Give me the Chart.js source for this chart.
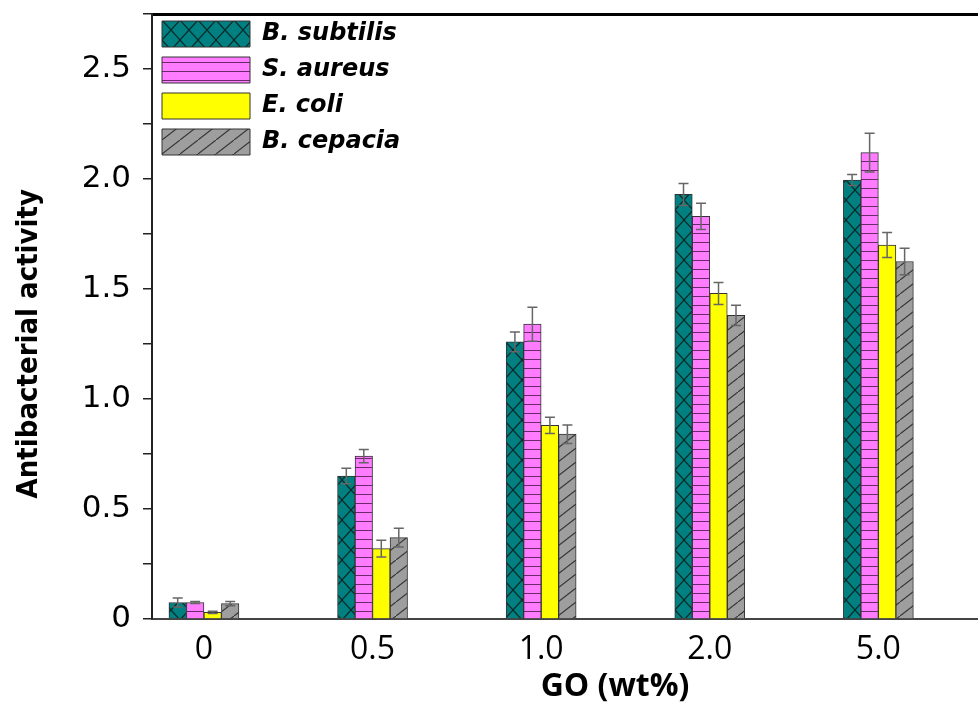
<!DOCTYPE html>
<html>
<head>
<meta charset="utf-8">
<script src="https://cdn.jsdelivr.net/npm/chart.js@4"></script>
<style>
html,body{margin:0;padding:0;background:#fff;overflow:hidden;}
#wrap{width:978px;height:706px;overflow:hidden;position:relative;}
</style>
</head>
<body>
<div id="wrap"><canvas id="c" width="1078" height="706" style="width:1078px;height:706px;display:block"></canvas></div>
<script>
// ---- data ----
const categories = ['0', '0.5', '1.0', '2.0', '5.0'];
const seriesNames = ['B. subtilis', 'S. aureus', 'E. coli', 'B. cepacia'];
const subtilisVals = [0.075, 0.65, 1.26, 1.93, 1.995];
const subtilisErr  = [0.02, 0.035, 0.045, 0.05, 0.025];
const aureusVals   = [0.075, 0.74, 1.34, 1.83, 2.12];
const aureusErr    = [0.005, 0.03, 0.077, 0.06, 0.088];
const coliVals     = [0.03, 0.32, 0.88, 1.48, 1.70];
const coliErr      = [0.005, 0.038, 0.037, 0.05, 0.057];
const cepaciaVals  = [0.07, 0.37, 0.84, 1.38, 1.625];
const cepaciaErr   = [0.01, 0.043, 0.042, 0.046, 0.06];
const yTickLabels  = ['0', '0.5', '1.0', '1.5', '2.0', '2.5'];

// ---- patterns ----
function tile(w, h, bg, draw) {
  const c = document.createElement('canvas');
  c.width = w; c.height = h;
  const g = c.getContext('2d');
  g.fillStyle = bg; g.fillRect(0, 0, w, h);
  draw(g, w, h);
  return document.getElementById('c').getContext('2d').createPattern(c, 'repeat');
}
const tealPattern = tile(18, 20, '#008080', (g, w, h) => {
  g.strokeStyle = '#0b2a2a'; g.lineWidth = 1.2;
  g.beginPath(); g.moveTo(0, 0); g.lineTo(w, h); g.moveTo(w, 0); g.lineTo(0, h); g.stroke();
});
const pinkPattern = tile(8, 9, '#ff7bff', (g, w, h) => {
  g.strokeStyle = '#6a2a6a'; g.lineWidth = 1;
  g.beginPath(); g.moveTo(0, h - 0.5); g.lineTo(w, h - 0.5); g.stroke();
});
const grayPattern = tile(18, 14, '#9e9e9e', (g, w, h) => {
  g.strokeStyle = '#333'; g.lineWidth = 1.1;
  g.beginPath();
  g.moveTo(-2, h + 2 * h / w); g.lineTo(w + 2, -2 * h / w);
  g.stroke();
});

const valueSets = [subtilisVals, aureusVals, coliVals, cepaciaVals];
const errSets = [subtilisErr, aureusErr, coliErr, cepaciaErr];
const fills = [tealPattern, pinkPattern, '#ffff00', grayPattern];

const datasets = seriesNames.map((name, s) => ({
  label: name,
  data: valueSets[s].map((v, i) => ({x: i, y: v})),
  errors: errSets[s],
  backgroundColor: fills[s],
  borderColor: '#333',
  borderWidth: 1,
  barThickness: 17.5,
  borderSkipped: 'bottom'
}));

const errorBars = {
  id: 'errorBars',
  afterDatasetsDraw(chart) {
    const ctx = chart.ctx;
    const y = chart.scales.y;
    ctx.save();
    ctx.strokeStyle = '#666';
    ctx.lineWidth = 1.5;
    chart.data.datasets.forEach((ds, di) => {
      const meta = chart.getDatasetMeta(di);
      meta.data.forEach((el, i) => {
        const v = ds.data[i].y, e = ds.errors[i];
        const top = y.getPixelForValue(v + e);
        const bot = y.getPixelForValue(v - e);
        const x = el.x;
        ctx.beginPath();
        ctx.moveTo(x, top); ctx.lineTo(x, bot);
        ctx.moveTo(x - 5, top); ctx.lineTo(x + 5, top);
        ctx.moveTo(x - 5, bot); ctx.lineTo(x + 5, bot);
        ctx.stroke();
      });
    });
    ctx.restore();
  }
};

new Chart(document.getElementById('c'), {
  type: 'bar',
  data: {datasets},
  plugins: [errorBars],
  options: {
    responsive: false,
    animation: false,
    devicePixelRatio: 1,
    layout: {padding: {top: 14, left: 0, right: 0, bottom: 0}, autoPadding: false},
    plugins: {
      tooltip: {enabled: false},
      legend: {
        position: 'chartArea',
        align: 'start',
        title: {display: true, text: ' ', font: {size: 1, lineHeight: 1}, padding: {top: 0, bottom: 10}},
        labels: {
          boxWidth: 88,
          boxHeight: 26,
          padding: 10,
          color: '#000',
          font: {family: 'DejaVu Sans', size: 24, style: 'italic', weight: 'bold'}
        }
      }
    },
    scales: {
      x: {
        type: 'linear',
        offset: false,
        min: -0.308,
        max: 5.184,
        afterBuildTicks(scale) { scale.ticks = categories.map((_, i) => ({value: i})); },
        afterFit(scale) { scale.height = 87; scale.paddingLeft = 0; scale.paddingRight = 0; },
        ticks: {
          callback: (v) => categories[Math.round(v)] ?? '',
          color: '#000',
          padding: 12,
          maxRotation: 0,
          autoSkip: false,
          font: {family: 'Open Sans', size: 32}
        },
        grid: {display: false, drawTicks: false},
        border: {display: true, color: '#444', width: 2},
        title: {
          display: true,
          text: 'GO (wt%)',
          color: '#000',
          font: {family: 'Open Sans', size: 32, weight: 'bold', lineHeight: 1},
          padding: {top: 0, bottom: 3}
        }
      },
      x2: {
        type: 'linear',
        position: 'top',
        min: 0, max: 1,
        ticks: {display: false},
        grid: {display: false, drawTicks: false},
        border: {display: true, color: '#000', width: 3}
      },
      y: {
        min: 0,
        max: 2.75,
        afterFit(scale) { scale.width = 152; scale.paddingTop = 0; scale.paddingBottom = 0; },
        ticks: {
          stepSize: 0.25,
          color: '#000',
          padding: 12,
          font: {family: 'DejaVu Sans', size: 31},
          callback: (v) => {
            const k = v * 2;
            if (Math.abs(k - Math.round(k)) > 1e-6) return '';
            return yTickLabels[Math.round(k)] ?? '';
          }
        },
        grid: {display: true, drawOnChartArea: false, drawTicks: true, tickLength: 9, color: '#222', lineWidth: 1.5},
        border: {display: true, color: '#222', width: 2},
        title: {
          display: true,
          text: 'Antibacterial activity      ',
          color: '#000',
          font: {family: "'Liberation Sans Narrow', 'DejaVu Sans Condensed', sans-serif", size: 29, weight: 'bold', lineHeight: 1},
          padding: {top: 15, bottom: 0}
        }
      }
    }
  }
});
</script>
</body>
</html>
